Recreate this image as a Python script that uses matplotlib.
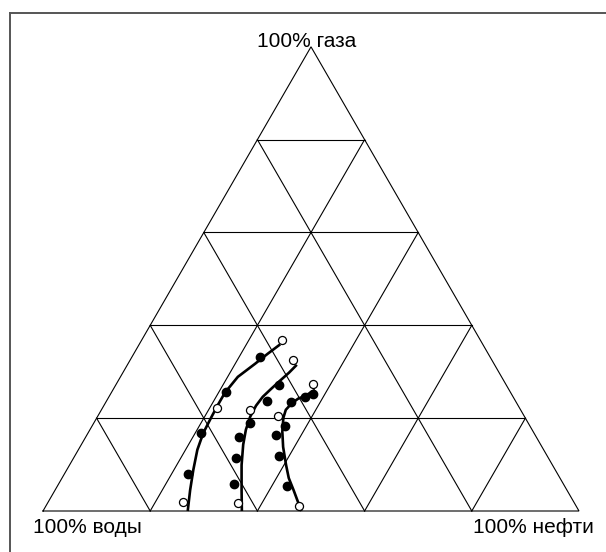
import numpy as np
import matplotlib
matplotlib.use("Agg")
import matplotlib.pyplot as plt
from matplotlib.lines import Line2D

plt.rcParams['font.family'] = ['Liberation Sans', 'DejaVu Sans']

# grid levels (fractions of each component)
levels = [0.2, 0.4, 0.6, 0.8]

# measured points, percent: gas, oil (water is the rest); filled / open markers
c1_gas_f = [33.2, 25.7, 16.8, 8.0]
c1_oil_f = [23.8, 21.2, 21.0, 23.1]
c1_gas_o = [36.8, 22.2, 1.9]
c1_oil_o = [26.2, 21.3, 25.2]

c2_gas_f = [27.2, 23.6, 18.9, 16.0, 11.4, 5.8]
c2_oil_f = [30.4, 30.0, 29.1, 28.5, 30.3, 32.7]
c2_gas_o = [32.6, 21.8, 1.8]
c2_oil_o = [30.4, 27.7, 35.4]

c3_gas_f = [25.3, 24.6, 23.5, 18.4, 16.3, 11.9, 5.4]
c3_oil_f = [37.8, 36.5, 34.6, 36.0, 35.3, 38.0, 42.8]
c3_gas_o = [27.3, 20.4, 1.1]
c3_oil_o = [36.8, 33.7, 47.3]

# fitted curves, percent
fit1_gas = [0, 4.5, 8.9, 13.2, 16.8, 20.3, 22.9, 25.5, 28.9, 31.7, 33.9, 35.9]
fit1_oil = [27.0, 25.2, 23.6, 22.2, 21.5, 21.3, 21.2, 21.2, 21.9, 23.7, 25.0, 26.3]
fit2_gas = [0, 4.5, 9.9, 14.3, 17.5, 20.3, 22.7, 24.6, 26.3, 28.1, 29.8, 31.5]
fit2_oil = [37.1, 34.8, 32.1, 30.2, 29.1, 28.5, 28.4, 28.7, 29.4, 30.2, 31.0, 31.6]
fit3_gas = [0, 4.5, 7.1, 9.9, 13.8, 17.1, 20.1, 21.8, 23.2, 24.2, 24.8, 26.1]
fit3_oil = [48.2, 44.5, 42.3, 40.4, 37.9, 36.1, 34.8, 34.4, 34.8, 35.5, 36.5, 37.7]


def to_xy(gas, oil):
    g = np.asarray(gas) / 100.0
    o = np.asarray(oil) / 100.0
    return o + g / 2.0, g * np.sqrt(3) / 2.0


fig = plt.figure(figsize=(6.06, 5.52), dpi=100)
ax = fig.add_axes([0, 0, 1, 1])
ax.set_xlim(-43 / 536, (606 - 43) / 536)
ax.set_ylim(-41 / 536, (552 - 41) / 536)
ax.axis('off')

# outer frame (open at right and bottom)
fig.add_artist(Line2D([10 / 606, 10 / 606], [0, 1 - 13 / 552], transform=fig.transFigure,
                      color='#555555', lw=1.4))
fig.add_artist(Line2D([10 / 606, 1], [1 - 13 / 552, 1 - 13 / 552], transform=fig.transFigure,
                      color='#555555', lw=1.4))

# triangle and grid
tx, ty = to_xy([0, 0, 100, 0], [0, 100, 0, 0])
ax.plot(tx, ty, color='black', lw=0.8, solid_joinstyle='miter')
for k in levels:
    p = 100 * k
    q = 100 - p
    # constant gas
    x, y = to_xy([p, p], [0, q])
    ax.plot(x, y, color='black', lw=0.8)
    # constant oil
    x, y = to_xy([0, q], [p, p])
    ax.plot(x, y, color='black', lw=0.8)
    # constant water
    x, y = to_xy([0, q], [q, 0])
    ax.plot(x, y, color='black', lw=0.8)

for fg, fo in [(fit1_gas, fit1_oil), (fit2_gas, fit2_oil), (fit3_gas, fit3_oil)]:
    x, y = to_xy(fg, fo)
    ax.plot(x, y, color='black', lw=1.9, solid_capstyle='butt', solid_joinstyle='round')

for g, o in [(c1_gas_f, c1_oil_f), (c2_gas_f, c2_oil_f), (c3_gas_f, c3_oil_f)]:
    x, y = to_xy(g, o)
    ax.plot(x, y, 'o', color='black', ms=6, zorder=5)
for g, o in [(c1_gas_o, c1_oil_o), (c2_gas_o, c2_oil_o), (c3_gas_o, c3_oil_o)]:
    x, y = to_xy(g, o)
    ax.plot(x, y, 'o', mfc='white', mec='black', mew=0.9, ms=5.8, zorder=6)

ax.text(0.5 - 4 / 536, np.sqrt(3) / 2 + 0.0, '100% газа', ha='center', va='baseline', fontsize=15)
ax.text(-10 / 536, -22 / 536, '100% воды', ha='left', va='baseline', fontsize=15)
ax.text(1 + 15 / 536, -22 / 536, '100% нефти', ha='right', va='baseline', fontsize=15)

fig.savefig('out.png', dpi=100)
